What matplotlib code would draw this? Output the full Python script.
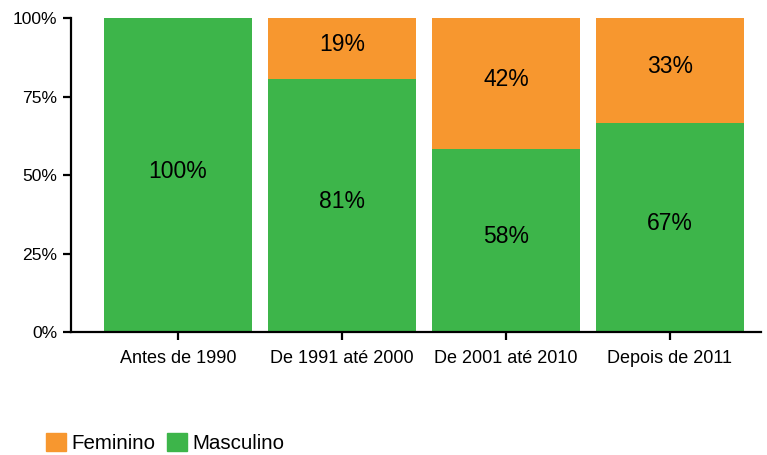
import matplotlib.pyplot as plt
import numpy as np
from matplotlib.patches import Patch

plt.rcParams['font.family'] = ['Liberation Sans', 'DejaVu Sans']

categories = ['Antes de 1990', 'De 1991 até 2000', 'De 2001 até 2010', 'Depois de 2011']
masculino = [100.0, 80.6, 58.3, 66.7]
feminino = [0.0, 19.4, 41.7, 33.3]
yticks = [0, 25, 50, 75, 100]

green = '#3DB54A'
orange = '#F7972F'

fig = plt.figure(figsize=(7.67, 4.55), dpi=100)
ax = fig.add_axes([0.0926, 0.2703, 0.8994, 0.6901])

x = np.arange(len(categories))
ax.bar(x, masculino, width=0.9, color=green)
ax.bar(x, feminino, width=0.9, bottom=masculino, color=orange)

for i in range(len(categories)):
    if masculino[i] > 0:
        ax.text(x[i], masculino[i] / 2 + 1.2, f'{masculino[i]:.0f}%', ha='center', va='center', fontsize=16.5)
    if feminino[i] > 0:
        ax.text(x[i], masculino[i] + feminino[i] / 2 + 1.2, f'{feminino[i]:.0f}%', ha='center', va='center', fontsize=16.5)

ax.set_xlim(-0.652, 3.555)
ax.set_ylim(0, 100)
ax.set_yticks(yticks)
ax.set_yticklabels([f'{v}%' for v in yticks], fontsize=12.6)
ax.set_xticks(x)
ax.set_xticklabels(categories, fontsize=13)

for s in ['top', 'right']:
    ax.spines[s].set_visible(False)
for s in ['left', 'bottom']:
    ax.spines[s].set_linewidth(1.6)
ax.tick_params(axis='both', length=6, width=1.6, color='black', pad=4)
ax.tick_params(axis='x', pad=7)

handles = [Patch(color=orange, label='Feminino'), Patch(color=green, label='Masculino')]
fig.legend(handles=handles, loc='lower left', bbox_to_anchor=(0.036, -0.036), ncol=2, frameon=False,
           fontsize=14.8, handlelength=0.95, handleheight=0.95, handletextpad=0.3, columnspacing=0.55)

fig.savefig('out.png', dpi=100)
